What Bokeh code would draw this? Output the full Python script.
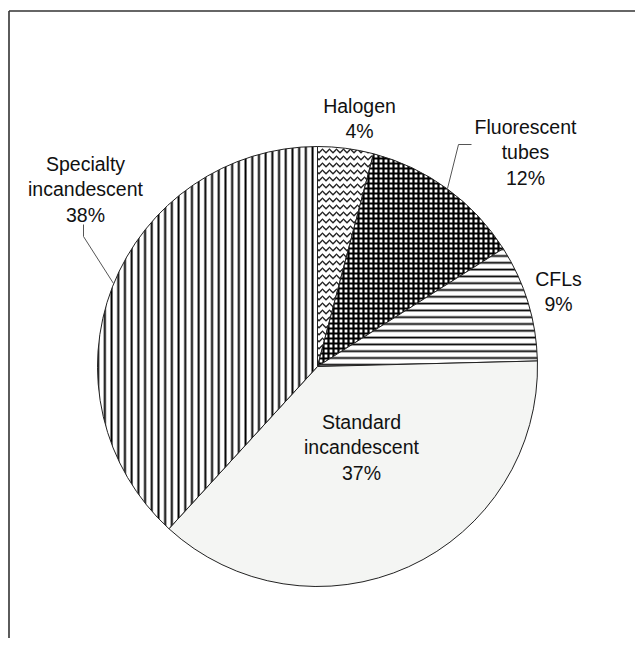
import math
from bokeh.plotting import figure
from bokeh.models import Range1d, ColumnDataSource
from bokeh.core.properties import value
from bokeh.embed import file_html
from bokeh.resources import INLINE

# ---- data ----
categories = ["Halogen", "Fluorescent tubes", "CFLs", "Standard incandescent", "Specialty incandescent"]
label_lines = [["Halogen"], ["Fluorescent", "tubes"], ["CFLs"], ["Standard", "incandescent"], ["Specialty", "incandescent"]]
shares = [4.1, 11.9, 8.6, 37.2, 38.2]

# ---- layout / style ----
W, H = 635, 638
def fx(px):
    return px
def fy(py):
    return H - py

cx, cy, R = fx(317), fy(366), 220
FONT = "Liberation Sans"
FS = 19.5
LH = 25.5

styles = [
    dict(fill_color="white", hatch_pattern="horizontal_wave", hatch_scale=7, hatch_weight=1.3, hatch_color="#222"),
    dict(fill_color="white", hatch_pattern="cross", hatch_scale=5, hatch_weight=2.2, hatch_color="black"),
    dict(fill_color="white", hatch_pattern="horizontal_line", hatch_scale=6.8, hatch_weight=1.8, hatch_color="black"),
    dict(fill_color="#f4f5f3"),
    dict(fill_color="white", hatch_pattern="vertical_line", hatch_scale=6.7, hatch_weight=2.0, hatch_color="black"),
]
# label anchor: (center x, baseline of first line) in page pixels
label_pos = [(359, 105), (525, 126), (558, 278), (361, 421), (85, 163)]
leaders = [
    None,
    [(471, 144), (458, 144), (447, 188)],
    None,
    None,
    [(83, 224), (83, 236), (113, 283)],
]

p = figure(width=W, height=H, output_backend="svg", toolbar_location=None,
           x_range=Range1d(0, W), y_range=Range1d(0, H), min_border=0)
p.axis.visible = False
p.grid.visible = False
p.outline_line_color = None
p.background_fill_color = "white"
p.border_fill_color = "white"

total = sum(shares)
cum = 0.0
for i, s in enumerate(shares):
    a0 = math.pi / 2 - 2 * math.pi * cum / total
    cum += s
    a1 = math.pi / 2 - 2 * math.pi * cum / total
    p.wedge(x=cx, y=cy, radius=R, start_angle=a0, end_angle=a1, direction="clock",
            line_color="#222", line_width=1, **styles[i])

# labels
xs, ys, texts = [], [], []
for i, lines in enumerate(label_lines):
    allines = lines + [f"{round(shares[i])}%"]
    lx, ly = label_pos[i]
    for k, t in enumerate(allines):
        xs.append(fx(lx))
        ys.append(fy(ly + k * LH))
        texts.append(t)
src = ColumnDataSource(dict(x=xs, y=ys, text=texts))
p.text(x="x", y="y", text="text", source=src, text_align="center", text_baseline="alphabetic",
       text_font=value(FONT), text_font_size=f"{FS}px", text_color="#111")

# leader lines
for ld in leaders:
    if ld:
        p.line([fx(a) for a, b in ld], [fy(b) for a, b in ld], line_color="#555", line_width=1)

# frame (top and left edges visible)
p.line([fx(8.5), W], [fy(10.5), fy(10.5)], line_color="#333", line_width=1.6)
p.line([fx(8.5), fx(8.5)], [0, fy(10.5)], line_color="#333", line_width=1.6)

open("out.html", "w").write(file_html(p, INLINE))
